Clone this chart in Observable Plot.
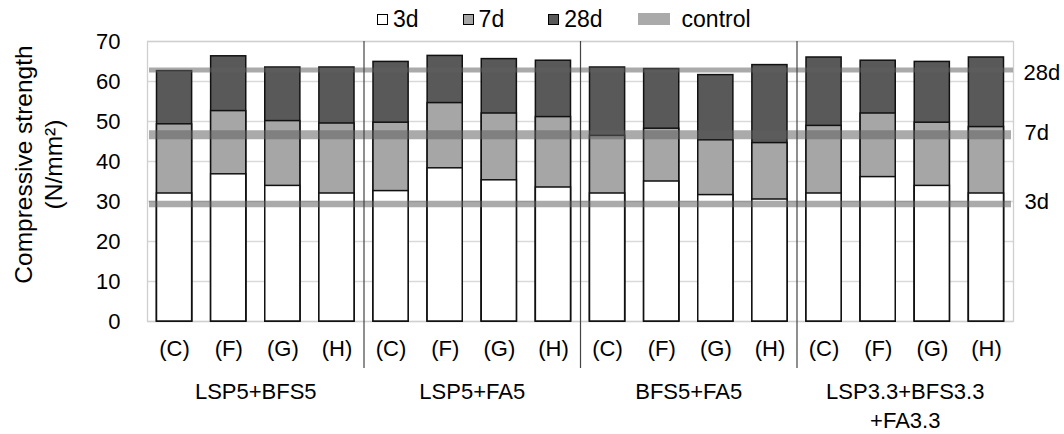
<!DOCTYPE html>
<html>
<head>
<meta charset="utf-8">
<script src="https://cdn.jsdelivr.net/npm/d3@7"></script>
<script src="https://cdn.jsdelivr.net/npm/@observablehq/plot@0.6"></script>
<style>
  body { margin: 0; background: #fff; font-family: "Liberation Sans", Arial, sans-serif; color: #000; }
  #legend { position: relative; z-index: 1; height: 24px; overflow: visible; box-sizing: border-box; padding: 6px 0 0 377px; display: flex; align-items: flex-start; font-size: 23px; }
  #legend .sw { width: 11px; height: 11px; box-sizing: border-box; border: 1px solid #000; margin: 8px 5px 0 0; }
  #legend .ln { width: 32px; height: 12px; background: #aaaaaa; margin: 7px 12px 0 0; }
  #legend .lab { margin-right: 44px; line-height: 26px; }
  #legend .lab.short { margin-right: 35px; }
  #chart svg { background: transparent; }
</style>
</head>
<body>
<div id="legend"></div>
<div id="chart"></div>
<script>
// ---- data ----
const groups = ["LSP5+BFS5", "LSP5+FA5", "BFS5+FA5", "LSP3.3+BFS3.3\n+FA3.3"];
const cats = ["C", "F", "G", "H"];
const s3  = [32.0, 36.8, 33.9, 32.0,  32.6, 38.3, 35.3, 33.5,  32.0, 35.0, 31.6, 30.5,  32.0, 36.1, 33.9, 32.0];
const s7  = [49.3, 52.6, 50.1, 49.5,  49.7, 54.6, 52.0, 51.1,  46.4, 48.2, 45.3, 44.6,  48.9, 52.0, 49.7, 48.6];
const s28 = [62.6, 66.3, 63.5, 63.5,  64.9, 66.4, 65.6, 65.2,  63.5, 63.1, 61.6, 64.1,  66.0, 65.2, 64.9, 66.0];
const ages = ["3d", "7d", "28d"];
const controlValues = [29.4, 46.7, 62.9];
const yTicks = [0, 10, 20, 30, 40, 50, 60, 70];
const ageFill = {"3d": "#ffffff", "7d": "#a6a6a6", "28d": "#595959"};

// ---- build rows ----
const rows = [];
groups.forEach((g, gi) => cats.forEach((c, ci) => {
  const i = gi * cats.length + ci;
  rows.push({i, group: g, cat: c, s3: s3[i], s7: s7[i], s28: s28[i]});
}));
const controls = ages.map((a, k) => ({age: a, v: controlValues[k]}));
const ctrl = a => controls.filter(d => d.age === a);
const n = rows.length;

// ---- legend ----
const legend = document.getElementById("legend");
ages.forEach(a => {
  const sw = document.createElement("div"); sw.className = "sw"; sw.style.background = ageFill[a];
  const t = document.createElement("div"); t.className = "lab" + (a === "28d" ? " short" : ""); t.textContent = a;
  legend.append(sw, t);
});
{
  const ln = document.createElement("div"); ln.className = "ln";
  const t = document.createElement("div"); t.className = "lab"; t.textContent = "control";
  legend.append(ln, t);
}

const barOpts = {x1: "i", x2: d => d.i + 1, insetLeft: 9.5, insetRight: 9.5, stroke: "#111", strokeWidth: 1.5};
const ctrlStyle = {stroke: "#5e5e5e", strokeOpacity: 0.53, insetLeft: 2};
const ctrlText = {y: "v", text: "age", frameAnchor: "right", textAnchor: "start", fontSize: 22};

const chart = Plot.plot({
  width: 1064,
  height: 410,
  marginTop: 17,
  marginBottom: 113,
  marginLeft: 147,
  marginRight: 51,
  style: {fontFamily: "'Liberation Sans', Arial, sans-serif", fontSize: "22px", color: "#000", background: "transparent", overflow: "visible"},
  x: {type: "linear", domain: [0, n], axis: null},
  y: {domain: [0, 70], axis: null},
  marks: [
    Plot.gridY(yTicks, {stroke: "#d9d9d9", strokeOpacity: 1, strokeWidth: 1.3}),
    Plot.frame({stroke: "#cfcfcf", strokeWidth: 1.3}),
    Plot.axisY({ticks: yTicks, tickSize: 0, tickPadding: 27, label: null, fontSize: 22}),
    Plot.rectY(rows, {...barOpts, y: "s28", fill: ageFill["28d"]}),
    Plot.rectY(rows, {...barOpts, y: "s7", fill: ageFill["7d"]}),
    Plot.rectY(rows, {...barOpts, y: "s3", fill: ageFill["3d"]}),
    Plot.ruleY(ctrl("28d"), {y: "v", ...ctrlStyle, strokeWidth: 5}),
    Plot.ruleY(ctrl("7d"), {y: "v", ...ctrlStyle, strokeWidth: 9, insetRight: 2}),
    Plot.ruleY(ctrl("3d"), {y: "v", ...ctrlStyle, strokeWidth: 6.5, insetRight: 2}),
    Plot.text(ctrl("28d"), {...ctrlText, dx: 10, dy: 3}),
    Plot.text(ctrl("7d"), {...ctrlText, dx: 11, dy: -2}),
    Plot.text(ctrl("3d"), {...ctrlText, dx: 11, dy: -2}),
    Plot.ruleX(groups.slice(1).map((g, k) => (k + 1) * cats.length), {stroke: "#444", strokeWidth: 1.2, insetBottom: -47}),
    Plot.axisX({ticks: rows.map(d => d.i + 0.5), tickFormat: v => `(${rows[Math.floor(v)].cat})`, tickSize: 0, tickPadding: 19, label: null, fontSize: 22}),
    Plot.text(groups, {x: (g, k) => k * cats.length + cats.length / 2, text: g => g, frameAnchor: "bottom", lineAnchor: "top", dy: 57, lineHeight: 1.32, fontSize: 22}),
    Plot.text(["Compressive strength\n(N/mm²)"], {frameAnchor: "left", rotate: -90, textAnchor: "middle", lineAnchor: "middle", dx: -110, dy: -17, lineHeight: 1.22, fontSize: 24.5})
  ]
});
document.getElementById("chart").append(chart);
</script>
</body>
</html>
